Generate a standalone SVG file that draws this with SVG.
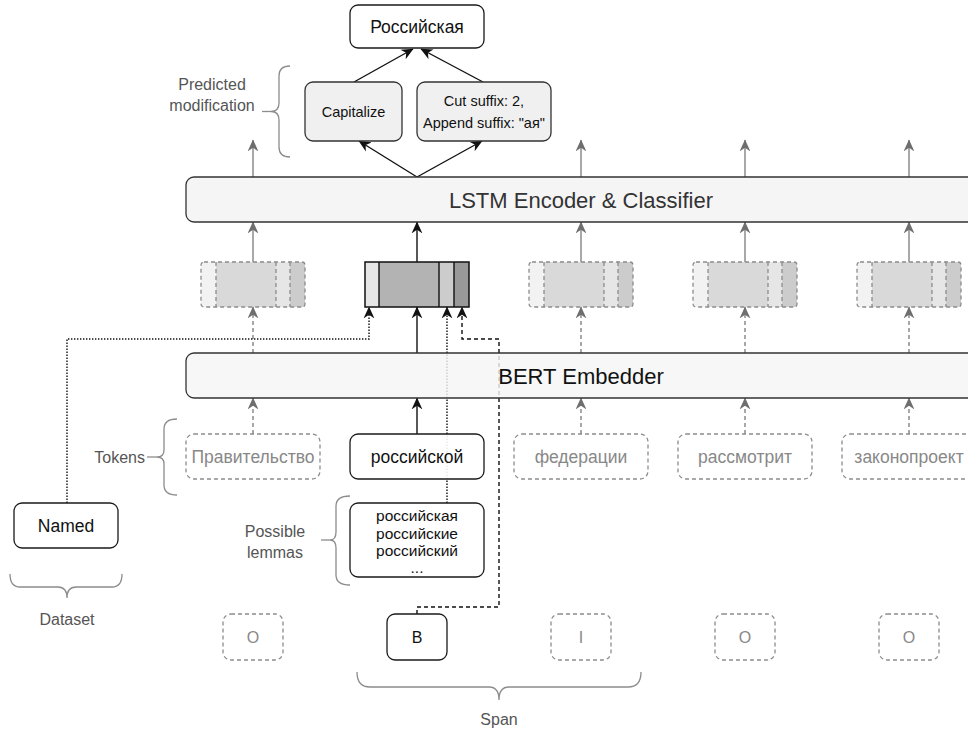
<svg xmlns="http://www.w3.org/2000/svg" width="968" height="729" viewBox="0 0 968 729">
  <style>
    text { font-family: "Liberation Sans", Arial, sans-serif; }
    .node { fill: #ffffff; stroke: #1a1a1a; stroke-width: 1.3; }
    .ghost { fill: #ffffff; stroke: #8c8c8c; stroke-width: 1.3; stroke-dasharray: 4 3; }
    .ghost-frame { fill: none; stroke: #8c8c8c; stroke-width: 1.3; stroke-dasharray: 4 3; }
    .mod { fill: #f0f0f0; stroke: #333333; stroke-width: 1.3; }
    .band { fill: #f5f5f5; stroke: #333333; stroke-width: 1.3; }
    .lbl { font-size: 17.5px; fill: #111111; text-anchor: middle; }
    .glbl { font-size: 17.5px; fill: #888888; text-anchor: middle; }
    .side { font-size: 16px; fill: #555555; }
    .brace { fill: none; stroke: #8c8c8c; stroke-width: 1.3; }
    .blk { fill: none; stroke: #111111; stroke-width: 1.4; }
    .gry { fill: none; stroke: #7a7a7a; stroke-width: 1.3; }
    .gdash { stroke-dasharray: 4 3; }
    .dot { fill: none; stroke: #111111; stroke-width: 1.4; stroke-dasharray: 1.4 1.6; }
    .dash { fill: none; stroke: #111111; stroke-width: 1.4; stroke-dasharray: 4 3; }
  </style>
  <defs>
    <marker id="ah" viewBox="0 0 10 10" refX="9.5" refY="5" markerWidth="12" markerHeight="12" markerUnits="userSpaceOnUse" orient="auto">
      <path d="M0,0.5 L10,5 L0,9.5 L3,5 z" fill="#111111"/>
    </marker>
    <marker id="ahg" viewBox="0 0 10 10" refX="9.5" refY="5" markerWidth="12" markerHeight="12" markerUnits="userSpaceOnUse" orient="auto">
      <path d="M0,0.5 L10,5 L0,9.5 L3,5 z" fill="#6e6e6e"/>
    </marker>
    <!-- embedding vector segments, shared by the inactive tokens -->
    <g id="vec-faded">
      <rect x="0" y="0" width="15" height="45" fill="#f2f2f2"/>
      <rect x="15" y="0" width="60" height="45" fill="#d9d9d9"/>
      <rect x="75" y="0" width="14" height="45" fill="#e6e6e6"/>
      <rect x="89" y="0" width="15" height="45" fill="#cccccc"/>
      <path class="ghost-frame" d="M15,0 V45 M75,0 V45 M89,0 V45"/>
      <rect class="ghost-frame" x="0" y="0" width="104" height="45" rx="3"/>
    </g>
  </defs>

  <rect width="968" height="729" fill="#ffffff"/>

  <!-- connectors -->
  <g id="connectors">
    <!-- classifier outputs of inactive tokens -->
    <path class="gry" d="M253,177 V140" marker-end="url(#ahg)"/>
    <path class="gry" d="M581,177 V140" marker-end="url(#ahg)"/>
    <path class="gry" d="M745,177 V140" marker-end="url(#ahg)"/>
    <path class="gry" d="M909,177 V140" marker-end="url(#ahg)"/>
    <!-- classifier to predicted modifications -->
    <path class="blk" d="M417,177 L359,141" marker-end="url(#ah)"/>
    <path class="blk" d="M417,177 L482,141" marker-end="url(#ah)"/>
    <!-- modifications to result -->
    <path class="blk" d="M354,82 L413,49" marker-end="url(#ah)"/>
    <path class="blk" d="M483,82 L421,49" marker-end="url(#ah)"/>
    <!-- embeddings to LSTM -->
    <path class="gry" d="M253,262 V222" marker-end="url(#ahg)"/>
    <path class="blk" d="M417,262 V222" marker-end="url(#ah)"/>
    <path class="gry" d="M581,262 V222" marker-end="url(#ahg)"/>
    <path class="gry" d="M745,262 V222" marker-end="url(#ahg)"/>
    <path class="gry" d="M909,262 V222" marker-end="url(#ahg)"/>
    <!-- BERT to embeddings -->
    <path class="gry gdash" d="M253,353 V307" marker-end="url(#ahg)"/>
    <path class="blk" d="M417,353 V307" marker-end="url(#ah)"/>
    <path class="gry gdash" d="M581,353 V307" marker-end="url(#ahg)"/>
    <path class="gry gdash" d="M745,353 V307" marker-end="url(#ahg)"/>
    <path class="gry gdash" d="M909,353 V307" marker-end="url(#ahg)"/>
    <!-- tokens to BERT -->
    <path class="gry gdash" d="M253,434 V398" marker-end="url(#ahg)"/>
    <path class="blk" d="M417,434 V398" marker-end="url(#ah)"/>
    <path class="gry gdash" d="M581,434 V398" marker-end="url(#ahg)"/>
    <path class="gry gdash" d="M745,434 V398" marker-end="url(#ahg)"/>
    <path class="gry gdash" d="M909,434 V398" marker-end="url(#ahg)"/>
    <!-- dataset feature -->
    <path class="dot" d="M67,503 V339 H369 V307" marker-end="url(#ah)"/>
    <!-- lemma feature -->
    <path class="dot" d="M447,503 V307" marker-end="url(#ah)"/>
    <!-- span tag feature -->
    <path class="dash" d="M417,614 V607 H499 V339 H462 V307" marker-end="url(#ah)"/>
  </g>

  <!-- result -->
  <g id="result">
    <rect class="node" x="350" y="5" width="134" height="43" rx="8"/>
    <text class="lbl" x="417" y="32.5">Российская</text>
  </g>

  <!-- predicted modifications -->
  <g id="mod-capitalize">
    <rect class="mod" x="305" y="82" width="97" height="59" rx="8"/>
    <text class="lbl" x="353.5" y="117" style="font-size:14.5px">Capitalize</text>
  </g>
  <g id="mod-suffix">
    <rect class="mod" x="417" y="82" width="134" height="59" rx="8"/>
    <text class="lbl" x="484" y="106" style="font-size:14.5px">Cut suffix: 2,</text>
    <text class="lbl" x="484" y="128" style="font-size:14.5px">Append suffix: "ая"</text>
  </g>
  <g id="label-predicted">
    <path class="brace" d="M290,66 Q279,66 279,76 V103 Q279,111.5 271,111.5 Q279,111.5 279,120 V147 Q279,157 290,157"/>
    <path class="brace" d="M262,111.5 H271"/>
    <text class="side" x="212" y="90" text-anchor="middle">Predicted</text>
    <text class="side" x="212" y="111" text-anchor="middle">modification</text>
  </g>

  <!-- LSTM -->
  <g id="lstm">
    <rect class="band" x="186" y="177" width="800" height="45" rx="8"/>
    <text x="581" y="207.5" text-anchor="middle" style="font-size:22px" fill="#333333">LSTM Encoder &amp; Classifier</text>
  </g>

  <!-- token embeddings -->
  <g id="emb-0"><use href="#vec-faded" x="201" y="262"/></g>
  <g id="emb-1">
    <rect x="365" y="262" width="14" height="45" fill="#e6e6e6"/>
    <rect x="379" y="262" width="60" height="45" fill="#b3b3b3"/>
    <rect x="439" y="262" width="15" height="45" fill="#cccccc"/>
    <rect x="454" y="262" width="15" height="45" fill="#999999"/>
    <path class="blk" d="M379,262 V307 M439,262 V307 M454,262 V307"/>
    <rect x="365" y="262" width="104" height="45" fill="none" stroke="#111111" stroke-width="1.5"/>
  </g>
  <g id="emb-2"><use href="#vec-faded" x="529" y="262"/></g>
  <g id="emb-3"><use href="#vec-faded" x="693" y="262"/></g>
  <g id="emb-4"><use href="#vec-faded" x="857" y="262"/></g>

  <!-- BERT -->
  <g id="bert">
    <rect class="band" x="186" y="353" width="800" height="45" rx="8" fill-opacity="0.82"/>
    <text x="581" y="383.5" text-anchor="middle" style="font-size:22px" fill="#111111">BERT Embedder</text>
  </g>

  <!-- tokens -->
  <g id="tok-0">
    <rect class="ghost" x="186" y="434" width="134" height="45" rx="8"/>
    <text class="glbl" x="253" y="462.5">Правительство</text>
  </g>
  <g id="tok-1">
    <rect class="node" x="350" y="434" width="134" height="45" rx="8" fill-opacity="0.9"/>
    <text class="lbl" x="417" y="462.5">российской</text>
  </g>
  <g id="tok-2">
    <rect class="ghost" x="514" y="434" width="134" height="45" rx="8"/>
    <text class="glbl" x="581" y="462.5">федерации</text>
  </g>
  <g id="tok-3">
    <rect class="ghost" x="678" y="434" width="134" height="45" rx="8"/>
    <text class="glbl" x="745" y="462.5">рассмотрит</text>
  </g>
  <g id="tok-4">
    <rect class="ghost" x="842" y="434" width="134" height="45" rx="8"/>
    <text class="glbl" x="909" y="462.5">законопроект</text>
  </g>
  <g id="label-tokens">
    <path class="brace" d="M177,419 Q164,419 164,429 V450 Q164,457 157,457 Q164,457 164,464 V485 Q164,495 177,495"/>
    <path class="brace" d="M147,457 H157"/>
    <text class="side" x="145" y="463" text-anchor="end">Tokens</text>
  </g>

  <!-- lemmas -->
  <g id="lemmas">
    <rect class="node" x="350" y="503" width="134" height="74" rx="8"/>
    <text class="lbl" x="417" y="521" style="font-size:15.5px">российская</text>
    <text class="lbl" x="417" y="538.5" style="font-size:15.5px">российские</text>
    <text class="lbl" x="417" y="556" style="font-size:15.5px">российский</text>
    <text class="lbl" x="417" y="573" style="font-size:15.5px">...</text>
  </g>
  <g id="label-lemmas">
    <path class="brace" d="M350,496 Q336,496 336,506 V532 Q336,540 330,540 Q336,540 336,548 V575 Q336,585 350,585"/>
    <path class="brace" d="M321,540 H330"/>
    <text class="side" x="275" y="537" text-anchor="middle">Possible</text>
    <text class="side" x="275" y="558" text-anchor="middle">lemmas</text>
  </g>

  <!-- dataset -->
  <g id="dataset">
    <rect class="node" x="14" y="503" width="104" height="45" rx="8"/>
    <text class="lbl" x="66" y="531.5">Named</text>
  </g>
  <g id="label-dataset">
    <path class="brace" d="M10,574 Q10,587 20,587 H58 Q67,587 67,598 Q67,587 76,587 H112 Q122,587 122,574"/>
    <text class="side" x="67" y="625" text-anchor="middle">Dataset</text>
  </g>

  <!-- span tags -->
  <g id="tag-0">
    <rect class="ghost" x="223" y="614" width="60" height="46" rx="8"/>
    <text class="glbl" x="253" y="643" style="font-size:16px">O</text>
  </g>
  <g id="tag-1">
    <rect class="node" x="387" y="614" width="60" height="46" rx="8"/>
    <text class="lbl" x="417" y="643" style="font-size:16px">B</text>
  </g>
  <g id="tag-2">
    <rect class="ghost" x="551" y="614" width="60" height="46" rx="8"/>
    <text class="glbl" x="581" y="643" style="font-size:16px">I</text>
  </g>
  <g id="tag-3">
    <rect class="ghost" x="715" y="614" width="60" height="46" rx="8"/>
    <text class="glbl" x="745" y="643" style="font-size:16px">O</text>
  </g>
  <g id="tag-4">
    <rect class="ghost" x="879" y="614" width="60" height="46" rx="8"/>
    <text class="glbl" x="909" y="643" style="font-size:16px">O</text>
  </g>
  <g id="label-span">
    <path class="brace" d="M357,672 Q357,687 370,687 H489 Q499,687 499,700 Q499,687 509,687 H628 Q641,687 641,672"/>
    <text class="side" x="499" y="725" text-anchor="middle">Span</text>
  </g>
</svg>
